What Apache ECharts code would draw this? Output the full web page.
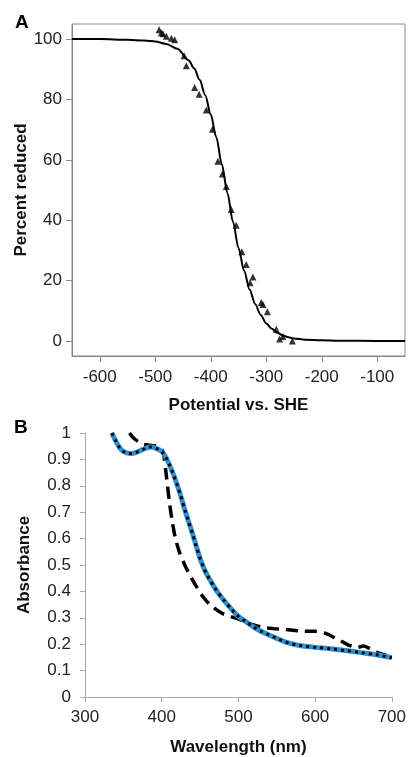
<!DOCTYPE html>
<html>
<head>
<meta charset="utf-8">
<script src="https://cdn.jsdelivr.net/npm/echarts@6/dist/echarts.min.js"></script>
<style>
html, body { margin: 0; padding: 0; background: #fff; }
#chart { width: 409px; height: 757px; }
</style>
</head>
<body>
<div id="chart"></div>
<script>
/* Panel A: redox titration */
const potentialTicks = [-600, -500, -400, -300, -200, -100];
const percentTicks = [0, 20, 40, 60, 80, 100];
const fitPotential = [-650, -600, -550, -520, -500, -480, -460, -440, -430, -420, -410, -400, -390, -380, -370, -360, -350, -340, -330, -320, -310, -300, -290, -280, -270, -260, -250, -230, -200, -170, -100, -50];
const fitPercent = [100, 100, 99.8, 99.5, 99.2, 98.4, 96.8, 93.0, 90.3, 86.5, 81.5, 75.0, 67.5, 58.5, 49.0, 39.5, 30.8, 23.3, 17.0, 12.2, 8.6, 5.8, 4.0, 2.7, 1.8, 1.2, 0.8, 0.4, 0.2, 0.05, 0, 0];
const measuredPotential = [-493, -489, -486, -480, -471, -465, -448, -444, -429, -421, -408, -397, -387, -379, -372, -363, -354, -344, -336, -324, -329, -309, -306, -298, -282, -276, -270, -253];
const measuredPercent = [103.1, 102.1, 101.8, 100.9, 100.3, 99.8, 94.5, 91.2, 84.0, 81.7, 76.5, 70.1, 59.5, 55.3, 51.2, 43.5, 38.3, 29.5, 25.3, 21.2, 19.3, 12.7, 12.1, 9.7, 3.9, 0.6, 1.5, 0];

/* Panel B: absorbance spectra */
const wavelengthTicks = [300, 400, 500, 600, 700];
const solidWavelength = [335, 340, 345, 350, 358, 365, 375, 385, 393, 400, 405, 410, 415, 420, 425, 430, 435, 440, 445, 450, 455, 460, 470, 480, 490, 500, 510, 520, 530, 540, 550, 560, 570, 580, 600, 620, 640, 660, 680, 700];
const solidAbsorbance = [1.0, 0.97, 0.945, 0.93, 0.922, 0.925, 0.937, 0.947, 0.942, 0.93, 0.91, 0.88, 0.845, 0.805, 0.76, 0.71, 0.665, 0.62, 0.572, 0.525, 0.488, 0.458, 0.41, 0.37, 0.336, 0.305, 0.285, 0.265, 0.248, 0.235, 0.222, 0.21, 0.201, 0.195, 0.188, 0.183, 0.176, 0.168, 0.16, 0.149];
const dashedWavelength = [358, 362, 368, 375, 382, 388, 395, 400, 403, 406, 410, 414, 418, 423, 430, 438, 446, 455, 465, 478, 490, 500, 513, 530, 545, 560, 580, 600, 612, 625, 635, 645, 655, 663, 670, 680, 690, 700];
const dashedAbsorbance = [1.0, 0.985, 0.97, 0.958, 0.955, 0.952, 0.95, 0.94, 0.91, 0.84, 0.74, 0.66, 0.60, 0.55, 0.50, 0.455, 0.415, 0.375, 0.345, 0.318, 0.305, 0.295, 0.28, 0.265, 0.259, 0.256, 0.25, 0.249, 0.243, 0.225, 0.21, 0.195, 0.188, 0.193, 0.185, 0.17, 0.16, 0.148];

const zip = (xs, ys) => xs.map((x, i) => [x, ys[i]]);

const FONT = "'Liberation Sans', Arial, sans-serif";
const labelStyle = { fontFamily: FONT, fontSize: 17, color: '#222' };
const nameStyle = { fontFamily: FONT, fontSize: 17, fontWeight: 'bold', color: '#111' };

const chart = echarts.init(document.getElementById('chart'), null, { renderer: 'canvas' });
chart.setOption({
    animation: false,
    backgroundColor: '#fff',
    graphic: [
        { type: 'text', left: 15, top: 13, style: { text: 'A', font: 'bold 19px ' + FONT, fill: '#000' } },
        { type: 'text', left: 14, top: 418, style: { text: 'B', font: 'bold 19px ' + FONT, fill: '#000' } },
    ],
    grid: [
        { left: 72, top: 24, width: 333, height: 332, show: true, borderColor: '#888', borderWidth: 1 },
        { left: 85, top: 433, width: 309, height: 267 },
    ],
    xAxis: [
        {
            type: 'value', gridIndex: 0, min: -650, max: -50,
            axisLine: { show: true, onZero: false, lineStyle: { color: '#888' } },
            axisTick: { show: true, length: 6, customValues: potentialTicks, lineStyle: { color: '#888' } },
            axisLabel: { ...labelStyle, margin: 13, customValues: potentialTicks },
            splitLine: { show: false },
            name: 'Potential vs. SHE', nameLocation: 'middle', nameGap: 41, nameTextStyle: nameStyle,
        },
        {
            type: 'value', gridIndex: 1, min: 300, max: 700, interval: 100,
            axisLine: { show: true, onZero: false, lineStyle: { color: '#aaa' } },
            axisTick: { show: true, length: 5, lineStyle: { color: '#aaa' } },
            axisLabel: { ...labelStyle, margin: 12, customValues: wavelengthTicks },
            splitLine: { show: false },
            name: 'Wavelength (nm)', nameLocation: 'middle', nameGap: 42, nameTextStyle: nameStyle,
        },
    ],
    yAxis: [
        {
            type: 'value', gridIndex: 0, min: -5, max: 105,
            axisLine: { show: true, onZero: false, lineStyle: { color: '#888' } },
            axisTick: { show: true, length: 6, customValues: percentTicks, lineStyle: { color: '#888' } },
            axisLabel: { ...labelStyle, margin: 10, customValues: percentTicks },
            splitLine: { show: false },
            name: 'Percent reduced', nameLocation: 'middle', nameGap: 42, nameMoveOverlap: false, nameTextStyle: nameStyle,
        },
        {
            type: 'value', gridIndex: 1, min: 0, max: 1, interval: 0.1,
            axisLine: { show: true, onZero: false, lineStyle: { color: '#aaa' } },
            axisTick: { show: true, length: 5, lineStyle: { color: '#aaa' } },
            axisLabel: { ...labelStyle, margin: 14 },
            splitLine: { show: false },
            name: 'Absorbance', nameLocation: 'middle', nameGap: 52, nameMoveOverlap: false, nameTextStyle: nameStyle,
        },
    ],
    series: [
        {
            type: 'line', xAxisIndex: 0, yAxisIndex: 0,
            data: zip(fitPotential, fitPercent),
            showSymbol: false, smooth: 0.3, smoothMonotone: 'x',
            lineStyle: { color: '#000', width: 2 },
        },
        {
            type: 'scatter', xAxisIndex: 0, yAxisIndex: 0,
            data: zip(measuredPotential, measuredPercent),
            symbol: 'triangle', symbolSize: 7,
            itemStyle: { color: '#000' },
        },
        {
            type: 'line', xAxisIndex: 1, yAxisIndex: 1,
            data: zip(dashedWavelength, dashedAbsorbance),
            showSymbol: false, smooth: 0.3,
            lineStyle: { color: '#000', width: 3.5, type: [12, 7] },
        },
        {
            type: 'line', xAxisIndex: 1, yAxisIndex: 1,
            data: zip(solidWavelength, solidAbsorbance),
            showSymbol: false, smooth: 0.3,
            lineStyle: { color: '#2f8fd3', width: 5 },
        },
        {
            type: 'line', xAxisIndex: 1, yAxisIndex: 1,
            data: zip(solidWavelength, solidAbsorbance),
            showSymbol: false, smooth: 0.3,
            lineStyle: { color: '#000', width: 3, type: [3, 4] },
        },
    ],
});
</script>
</body>
</html>
